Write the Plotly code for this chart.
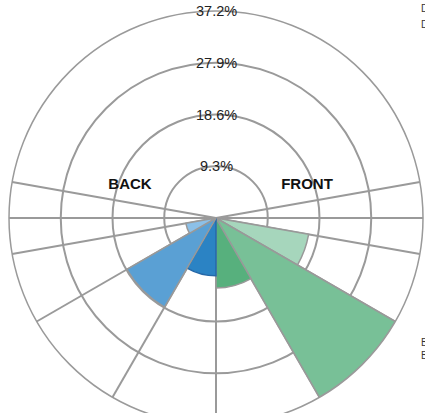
import plotly.graph_objects as go

# Data
sector_centers = [-20, -45, -75, -105, -135, -160]
sector_widths = [20, 30, 30, 30, 30, 20]
sector_values = [16.9, 37.2, 12.6, 10.4, 18.5, 5.5]
sector_colors = ["#a6d6bc", "#78c097", "#57b07d", "#2b83c4", "#5aa0d4", "#8cc0e8"]
sector_line_colors = ["#999999", "#999999", "#999999", "#2568a8", "#999999", "#999999"]

radial_max = 37.2
radial_ticks = [9.3, 18.6, 27.9, 37.2]
radial_tick_labels = ["9.3%", "18.6%", "27.9%", "37.2%"]
angular_grid = [0, 10, 170, 180, 190, 210, 240, 270, 300, 330, 350]

side_labels = ["<b>BACK</b>", "<b>FRONT</b>"]
side_label_theta = [159, 20]
side_label_r = [16.55, 17.4]

GRID = "#9a9a9a"

fig = go.Figure()
fig.add_trace(go.Barpolar(
    r=sector_values,
    theta=sector_centers,
    width=sector_widths,
    marker=dict(color=sector_colors,
                line=dict(color=sector_line_colors, width=1.5)),
    hoverinfo="skip",
    showlegend=False,
))
fig.add_trace(go.Scatterpolar(
    r=side_label_r,
    theta=side_label_theta,
    mode="text",
    text=side_labels,
    textposition="middle center",
    textfont=dict(family="Liberation Sans, Arial", size=15, color="#111111"),
    cliponaxis=False,
    hoverinfo="skip",
    showlegend=False,
))

tick_font = dict(family="Liberation Sans, Arial", size=14.5, color="#222222")
legend_font = dict(family="Liberation Sans, Arial", size=10, color="#333333")

# radial tick labels along the top of the (square, full-area) polar domain
annotations = [
    dict(text=lab, xref="paper", yref="paper", x=0.5,
         y=0.5 + 0.5 * v / radial_max, xanchor="center", yanchor="middle",
         showarrow=False, font=tick_font)
    for v, lab in zip(radial_ticks, radial_tick_labels)
]
annotations += [
    dict(text="D", xref="paper", yref="paper", x=1, y=1, xanchor="left",
         yanchor="middle", xshift=-4, yshift=3, showarrow=False, font=legend_font),
    dict(text="D", xref="paper", yref="paper", x=1, y=1, xanchor="left",
         yanchor="middle", xshift=-4, yshift=-13, showarrow=False, font=legend_font),
    dict(text="B", xref="paper", yref="paper", x=1, y=0, xanchor="left",
         yanchor="middle", xshift=-4, yshift=83, showarrow=False, font=legend_font),
    dict(text="B", xref="paper", yref="paper", x=1, y=0, xanchor="left",
         yanchor="middle", xshift=-4, yshift=70, showarrow=False, font=legend_font),
]

fig.update_layout(
    width=425,
    height=430,
    margin=dict(l=9, r=2, t=11, b=5),
    paper_bgcolor="white",
    plot_bgcolor="white",
    showlegend=False,
    polar=dict(
        domain=dict(x=[0, 1], y=[0, 1]),
        bgcolor="white",
        radialaxis=dict(
            range=[0, radial_max],
            tickvals=radial_ticks,
            showticklabels=False,
            ticks="",
            showline=False,
            gridcolor=GRID,
            gridwidth=1.5,
            layer="above traces",
        ),
        angularaxis=dict(
            tickvals=angular_grid,
            showticklabels=False,
            ticks="",
            showline=True,
            linecolor=GRID,
            linewidth=1.5,
            gridcolor=GRID,
            gridwidth=1.5,
            direction="counterclockwise",
            rotation=0,
            layer="above traces",
        ),
    ),
    annotations=annotations,
)

fig.write_html("out.html",
               config={"displayModeBar": False},
               post_script="document.body.style.margin='0';document.body.style.overflow='hidden';")
